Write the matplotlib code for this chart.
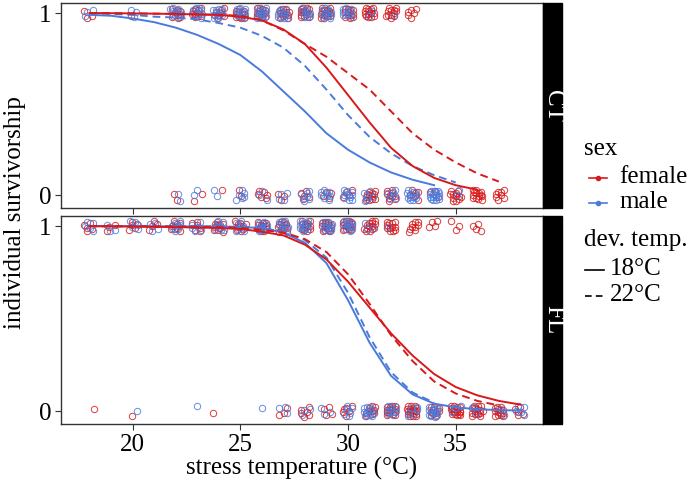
import numpy as np
import matplotlib
matplotlib.use("Agg")
import matplotlib.pyplot as plt
from matplotlib.lines import Line2D
from matplotlib.patches import Rectangle

plt.rcParams['font.family'] = ['Liberation Serif', 'DejaVu Serif']

RED = '#d7191c'
BLUE = '#4a7bdc'

# ---- point data: counts of individuals per stress temperature ----
# (temperature, n_female, n_male)
ct_alive_temp = [18, 20, 22, 23, 24, 25, 26, 27, 28, 29, 30, 31, 32, 33]
ct_alive_f = [3, 1, 10, 10, 8, 12, 12, 12, 14, 14, 12, 14, 12, 6]
ct_alive_m = [3, 3, 10, 10, 12, 12, 14, 12, 10, 12, 10, 2, 1, 0]

ct_dead_temp = [22, 23, 24, 25, 26, 27, 28, 29, 30, 31, 32, 33, 34, 35, 36, 37]
ct_dead_f = [2, 2, 1, 2, 6, 3, 5, 4, 4, 12, 10, 6, 3, 12, 14, 8]
ct_dead_m = [2, 2, 2, 6, 3, 4, 7, 9, 10, 6, 7, 12, 16, 2, 0, 0]

fl_alive_temp = [18, 19, 20, 21, 22, 23, 24, 25, 26, 27, 28, 29, 30, 31, 32, 33, 34, 35, 36]
fl_alive_f = [5, 3, 5, 4, 8, 6, 10, 10, 12, 12, 12, 14, 14, 14, 12, 9, 4, 3, 4]
fl_alive_m = [5, 3, 5, 4, 8, 6, 8, 8, 10, 10, 12, 12, 12, 3, 1, 0, 0, 0, 0]

fl_dead_temp = [18, 20, 23, 24, 26, 27, 28, 29, 30, 31, 32, 33, 34, 35, 36, 37, 38]
fl_dead_f = [1, 1, 0, 1, 0, 3, 6, 4, 6, 10, 14, 18, 10, 18, 16, 14, 5]
fl_dead_m = [0, 1, 1, 0, 1, 3, 3, 3, 6, 12, 10, 6, 14, 3, 2, 2, 5]

# ---- fitted survival curves ----
ct_f18_x = [18, 20, 22, 24, 25, 26, 27, 28, 29, 30, 31, 32, 33, 34, 35, 36]
ct_f18_y = [1.0, 0.998, 0.995, 0.99, 0.98, 0.96, 0.91, 0.83, 0.70, 0.55, 0.40, 0.26, 0.16, 0.095, 0.055, 0.03]
ct_f22_x = [18, 20, 22, 24, 25, 26, 27, 28, 29, 30, 31, 32, 33, 34, 35, 36, 37]
ct_f22_y = [1.0, 0.998, 0.995, 0.99, 0.985, 0.96, 0.905, 0.83, 0.76, 0.67, 0.58, 0.46, 0.34, 0.25, 0.18, 0.12, 0.075]
ct_m18_x = [18, 19, 20, 21, 22, 23, 24, 25, 26, 27, 28, 29, 30, 31, 32, 33, 34]
ct_m18_y = [0.99, 0.985, 0.97, 0.95, 0.92, 0.88, 0.83, 0.77, 0.68, 0.57, 0.46, 0.34, 0.25, 0.18, 0.125, 0.085, 0.055]
ct_m22_x = [18, 19, 20, 21, 22, 23, 24, 25, 26, 27, 28, 29, 30, 31, 32, 33, 34, 35]
ct_m22_y = [1.0, 0.995, 0.99, 0.98, 0.975, 0.965, 0.945, 0.92, 0.875, 0.81, 0.71, 0.58, 0.44, 0.32, 0.23, 0.16, 0.11, 0.07]

fl_f18_x = [18, 20, 22, 24, 25, 26, 27, 28, 29, 30, 31, 32, 33, 34, 35, 36, 37, 38]
fl_f18_y = [1.0, 0.998, 0.995, 0.99, 0.985, 0.97, 0.95, 0.90, 0.82, 0.70, 0.56, 0.42, 0.30, 0.20, 0.13, 0.085, 0.055, 0.035]
fl_f22_x = [18, 20, 22, 24, 25, 26, 27, 28, 29, 30, 31, 32, 33, 34, 35, 36, 37]
fl_f22_y = [1.0, 0.999, 0.998, 0.995, 0.99, 0.98, 0.965, 0.93, 0.86, 0.74, 0.58, 0.41, 0.27, 0.16, 0.095, 0.055, 0.03]
fl_m18_x = [18, 20, 22, 24, 25, 26, 27, 28, 29, 30, 31, 32, 33, 34, 35, 36, 37, 38]
fl_m18_y = [1.0, 1.0, 0.999, 0.998, 0.995, 0.99, 0.965, 0.91, 0.80, 0.60, 0.37, 0.19, 0.09, 0.04, 0.02, 0.01, 0.005, 0.003]
fl_m22_x = [18, 20, 22, 24, 25, 26, 27, 28, 29, 30, 31, 32, 33, 34]
fl_m22_y = [1.0, 1.0, 0.999, 0.998, 0.996, 0.99, 0.97, 0.925, 0.83, 0.64, 0.40, 0.21, 0.10, 0.045]

panels = {
    'CT': dict(alive=(ct_alive_temp, ct_alive_f, ct_alive_m),
               dead=(ct_dead_temp, ct_dead_f, ct_dead_m),
               curves=[(ct_m18_x, ct_m18_y, BLUE, '-'), (ct_m22_x, ct_m22_y, BLUE, '--'),
                       (ct_f18_x, ct_f18_y, RED, '-'), (ct_f22_x, ct_f22_y, RED, '--')]),
    'FL': dict(alive=(fl_alive_temp, fl_alive_f, fl_alive_m),
               dead=(fl_dead_temp, fl_dead_f, fl_dead_m),
               curves=[(fl_m18_x, fl_m18_y, BLUE, '-'), (fl_m22_x, fl_m22_y, BLUE, '--'),
                       (fl_f18_x, fl_f18_y, RED, '-'), (fl_f22_x, fl_f22_y, RED, '--')]),
}


def jitter_cluster(t, yv, n, seed):
    # deterministic 2-D quasi-random (R2 sequence) spread of n points around (t, yv)
    k = np.arange(n) + seed
    dx = (np.mod(k * 0.7548777 + 0.5, 1) - 0.5) * 0.5
    dy = (np.mod(k * 0.5698403 + 0.5, 1) - 0.5) * 0.06
    return t + dx, yv + dy


fig = plt.figure(figsize=(6.92, 4.88), dpi=100)
W, H = 692, 488
boxes = {'CT': (3, 208), 'FL': (216, 424)}
left, right = 61, 543
FS = 18

for name, p in panels.items():
    top, bot = boxes[name]
    ax = fig.add_axes([left / W, 1 - bot / H, (right - left) / W, (bot - top) / H])
    seed = 1
    for yv, key in [(1, 'alive'), (0, 'dead')]:
        temps, nf, nm = p[key]
        for t, a, b in zip(temps, nf, nm):
            for n, col in [(a, RED), (b, BLUE)]:
                if n == 0:
                    continue
                xs, ys = jitter_cluster(t, yv, n, seed)
                seed += n + 5
                ax.plot(xs, ys, 'o', mfc='none', mec=col, mew=0.7, ms=4.6, alpha=0.85, zorder=2)
    for cx, cy, col, ls in p['curves']:
        ax.plot(cx, cy, color=col, ls=ls, lw=1.4, dashes=(4, 2.5) if ls == '--' else (None, None), zorder=3)
    ax.set_xlim(16.68, 39.05)
    ax.set_ylim(-0.07, 1.055)
    ax.set_yticks([0, 1])
    ax.set_yticklabels(['0', '1'])
    ax.set_xticks([20, 25, 30, 35])
    if name == 'CT':
        ax.set_xticklabels([])
        ax.tick_params(axis='x', length=0)
    ax.tick_params(labelsize=FS, color='#333333', length=4, width=0.8, labelcolor='black', pad=3)
    for s in ax.spines.values():
        s.set_color('#333333')
        s.set_linewidth(1.0)
    # facet strip
    fig.add_artist(Rectangle((right / W, 1 - bot / H), 19 / W, (bot - top) / H,
                             facecolor='black', edgecolor='black', transform=fig.transFigure))
    fig.text((right + 10) / W, 1 - (top + bot) / 2 / H, name, color='white', fontsize=FS,
             rotation=-90, ha='center', va='center')

fig.text(302 / W, 1 - 468 / H, 'stress temperature (°C)', fontsize=FS, ha='center', va='center')
fig.text(15 / W, 1 - 213 / H, 'individual survivorship', fontsize=FS, rotation=90,
         ha='center', va='center')

# legend
fig.text(584 / W, 1 - 149 / H, 'sex', fontsize=FS, va='center')
for yy, col, lab in [(178, RED, 'female'), (203, BLUE, 'male')]:
    fig.add_artist(Line2D([589 / W, 607 / W], [1 - yy / H] * 2, color=col, lw=1.2,
                          transform=fig.transFigure))
    fig.add_artist(Line2D([598 / W], [1 - yy / H], marker='o', ms=3, color=col,
                          transform=fig.transFigure))
    fig.text(619 / W, 1 - (yy - 1) / H, lab, fontsize=FS, va='center')
fig.text(584 / W, 1 - 240 / H, 'dev. temp.', fontsize=FS, va='center')
for yy, ls, lab in [(270, '-', '18°C'), (296, '--', '22°C')]:
    fig.add_artist(Line2D([585 / W, 604 / W], [1 - yy / H] * 2, color='black', lw=1.2, ls=ls,
                          dashes=(4, 2.5) if ls == '--' else (None, None),
                          transform=fig.transFigure))
    fig.text(610 / W, 1 - (yy - 1) / H, lab, fontsize=FS, va='center')

fig.savefig('out.png', dpi=100)
